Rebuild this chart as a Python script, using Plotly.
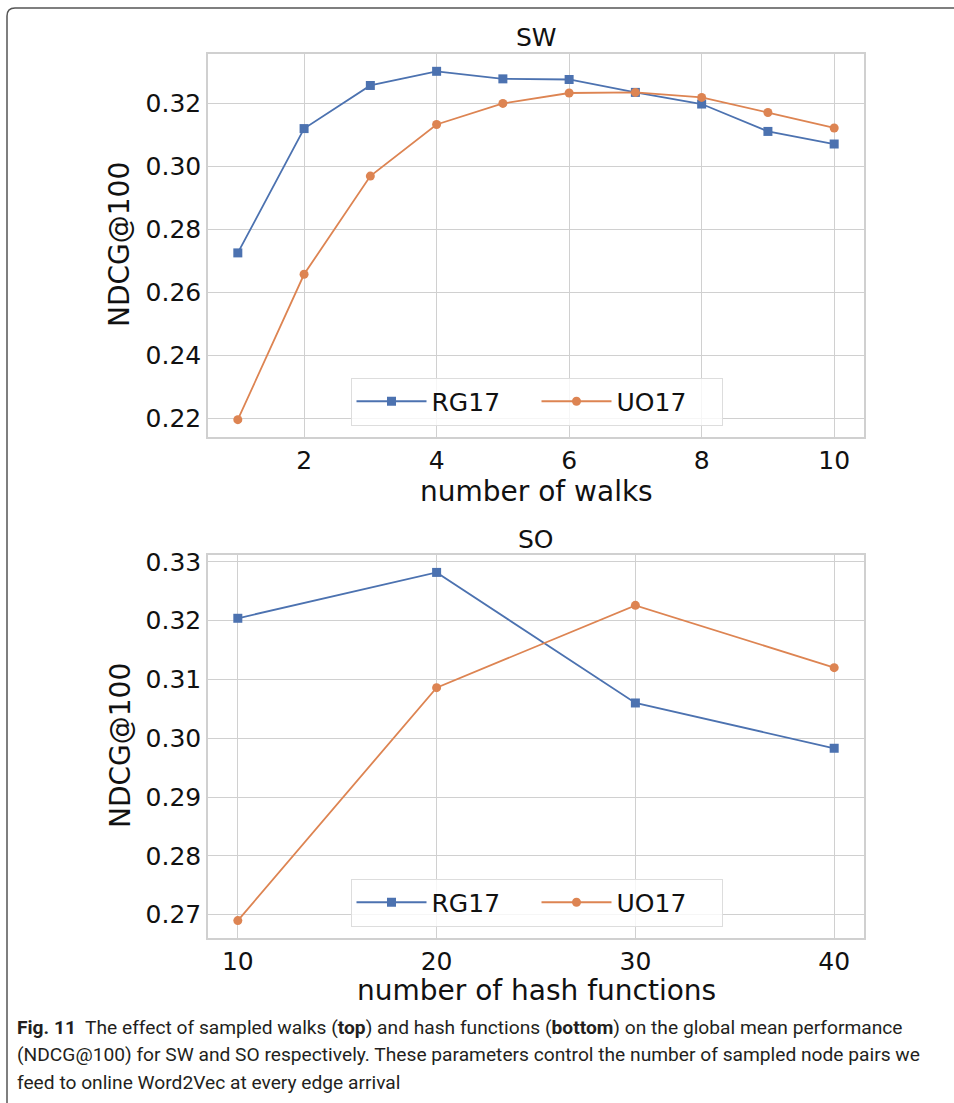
import plotly.graph_objects as go

# ---- data ----
walks = [1, 2, 3, 4, 5, 6, 7, 8, 9, 10]
sw_rg17 = [0.2725, 0.3120, 0.3257, 0.3302, 0.3278, 0.3276, 0.3235, 0.3198, 0.3111, 0.3071]
sw_uo17 = [0.2195, 0.2657, 0.2969, 0.3133, 0.3200, 0.3233, 0.3235, 0.3219, 0.3171, 0.3122]

hashes = [10, 20, 30, 40]
so_rg17 = [0.3204, 0.3282, 0.3060, 0.2983]
so_uo17 = [0.2690, 0.3086, 0.3226, 0.3120]

sw_yticks = [0.22, 0.24, 0.26, 0.28, 0.30, 0.32]
sw_xticks = [2, 4, 6, 8, 10]
so_yticks = [0.27, 0.28, 0.29, 0.30, 0.31, 0.32, 0.33]
so_xticks = [10, 20, 30, 40]

W, H = 954, 1103
BLUE = "#4C72B0"
ORANGE = "#DD8452"
GRID = "#d0d0d0"
FONT = "DejaVu Sans"

def px(x):
    return x / W

def py(y):
    return 1 - y / H

fig = go.Figure()

fig.add_trace(go.Scatter(x=walks, y=sw_rg17, name="RG17", mode="lines+markers",
                         line=dict(color=BLUE, width=1.8),
                         marker=dict(symbol="square", size=9, color=BLUE),
                         xaxis="x", yaxis="y", legend="legend"))
fig.add_trace(go.Scatter(x=walks, y=sw_uo17, name="UO17", mode="lines+markers",
                         line=dict(color=ORANGE, width=1.8),
                         marker=dict(symbol="circle", size=9, color=ORANGE),
                         xaxis="x", yaxis="y", legend="legend"))
fig.add_trace(go.Scatter(x=hashes, y=so_rg17, name="RG17", mode="lines+markers",
                         line=dict(color=BLUE, width=1.8),
                         marker=dict(symbol="square", size=9, color=BLUE),
                         xaxis="x2", yaxis="y2", legend="legend2"))
fig.add_trace(go.Scatter(x=hashes, y=so_uo17, name="UO17", mode="lines+markers",
                         line=dict(color=ORANGE, width=1.8),
                         marker=dict(symbol="circle", size=9, color=ORANGE),
                         xaxis="x2", yaxis="y2", legend="legend2"))

axis_common = dict(showgrid=True, gridcolor=GRID, gridwidth=1,
                   showline=True, linecolor=GRID, linewidth=1.5, mirror=True,
                   zeroline=False, ticks="", automargin=False,
                   tickfont=dict(family=FONT, size=25, color="#111111"))

xdom = [px(208), px(864)]

legend_common = dict(orientation="h", xanchor="center", yanchor="middle",
                     bgcolor="rgba(255,255,255,0.8)", bordercolor="#dddddd", borderwidth=1,
                     font=dict(family=FONT, size=25, color="#111111"),
                     itemwidth=70, entrywidth=100)

fig.update_layout(
    width=W, height=H,
    margin=dict(l=0, r=0, t=0, b=0, pad=0, autoexpand=False),
    paper_bgcolor="white", plot_bgcolor="white",
    font=dict(family=FONT, color="#111111"),
    xaxis=dict(domain=xdom, anchor="y", range=[0.55, 10.45],
               tickvals=sw_xticks, **axis_common),
    yaxis=dict(domain=[py(437), py(54)], anchor="x", range=[0.2140, 0.3357],
               tickvals=sw_yticks, tickformat=".2f", **axis_common),
    xaxis2=dict(domain=xdom, anchor="y2", range=[8.5, 41.5],
                tickvals=so_xticks, **axis_common),
    yaxis2=dict(domain=[py(938), py(555)], anchor="x2", range=[0.26604, 0.33116],
                tickvals=so_yticks, tickformat=".2f", **axis_common),
    legend=dict(x=px(536.5), y=py(401.5), **legend_common),
    legend2=dict(x=px(536.5), y=py(902.5), **legend_common),
    showlegend=True,
)

annotations = [
    dict(text="SW", x=px(536), y=py(37), font=dict(family=FONT, size=25)),
    dict(text="SO", x=px(536), y=py(539), font=dict(family=FONT, size=25)),
    dict(text="number of walks", x=px(536), y=py(491), font=dict(family=FONT, size=28)),
    dict(text="number of hash functions", x=px(536), y=py(991), font=dict(family=FONT, size=28)),
    dict(text="NDCG@100", x=px(120), y=py(245), textangle=-90, font=dict(family=FONT, size=28)),
    dict(text="NDCG@100", x=px(120), y=py(746), textangle=-90, font=dict(family=FONT, size=28)),
]
cap_lines = [
    "<b>Fig. 11</b>  The effect of sampled walks (<b>top</b>) and hash functions (<b>bottom</b>) on the global mean performance",
    "(NDCG@100) for SW and SO respectively. These parameters control the number of sampled node pairs we",
    "feed to online Word2Vec at every edge arrival",
]
for i, line in enumerate(cap_lines):
    annotations.append(dict(text=line, x=px(15), y=py(1027 + 27.5 * i), xanchor="left",
                            font=dict(family="Roboto", size=19.2, color="#231f20")))
for a in annotations:
    a.setdefault("xref", "paper")
    a.setdefault("yref", "paper")
    a.setdefault("showarrow", False)
    a.setdefault("yanchor", "middle")
    a.setdefault("xanchor", "center")
fig.update_layout(annotations=annotations)

# figure frame (top and left border with rounded corner)
path = "M {x0},{y0} L {x0},{y1} Q {x0},{y2} {x3},{y2} L {x4},{y2}".format(
    x0=px(7), y0=py(1103), y1=py(16), y2=py(8), x3=px(15), x4=px(954))
fig.add_shape(type="path", path=path, xref="paper", yref="paper",
              line=dict(color="#555555", width=1.5))

post = (
    "document.body.style.margin='0';document.body.style.overflow='hidden';"
    "var d=document.getElementsByClassName('plotly-graph-div')[0];"
    "d.style.position='absolute';d.style.top='0px';d.style.left='0px';"
)
fig.write_html("out.html", config={"displayModeBar": False}, post_script=post)
